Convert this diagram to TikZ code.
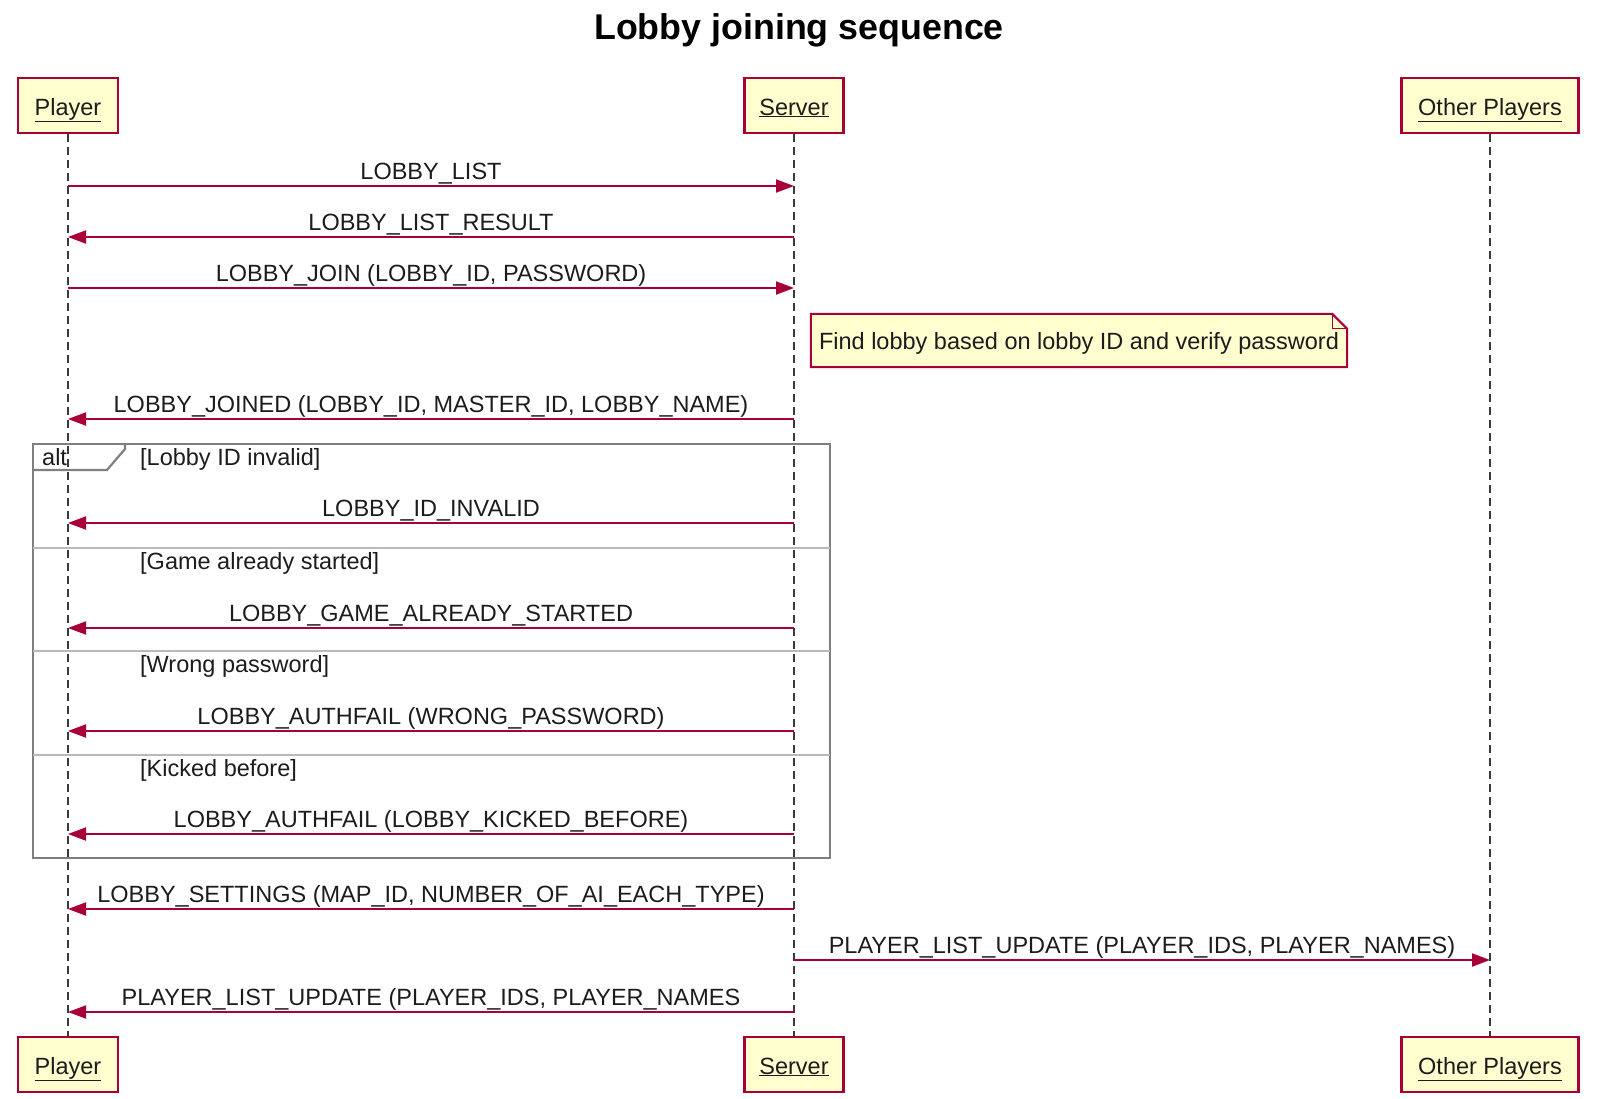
\documentclass[tikz,border=0pt]{standalone}
\usepackage{fontspec}
\setmainfont{Liberation Sans}
\usetikzlibrary{arrows.meta,positioning,calc,backgrounds}

\begin{document}
\begin{tikzpicture}[
    x=1pt, y=-1pt,
    every node/.style={font=\fontsize{23.5}{28}\selectfont, text=textdark},
    actor/.style={draw=umlred, fill=umlyellow, line width=2.2pt, minimum height=55pt, inner sep=0pt,
      text height=25pt, text depth=6pt},
    lifeline/.style={draw=linegray, line width=1.6pt, dash pattern=on 8pt off 5pt},
    msg/.style={umlred, line width=2pt, -{Triangle[length=18pt,width=13pt]}},
    msglabel/.style={midway, anchor=base, yshift=7pt, inner sep=0pt},
    framebox/.style={draw=framegray, line width=2.2pt},
    divider/.style={draw=framegray!55, line width=2pt},
    guard/.style={anchor=base west, inner sep=0pt},
  ]
    \definecolor{umlred}{HTML}{A80036}
    \definecolor{umlyellow}{HTML}{FEFECE}
    \definecolor{linegray}{HTML}{3A3A3A}
    \definecolor{framegray}{HTML}{7F7F7F}
    \definecolor{textdark}{HTML}{1C1C1C}

    \useasboundingbox (0,0) rectangle (1598,1098);

    % ============ title ============
    \node[font=\fontsize{35.8}{40}\selectfont\bfseries, text=black] (title) at (799,30) {Lobby joining sequence};

    % ============ participants ============
    \node[actor, minimum width=100pt] (player) at (68,105.5) {\underline{Player}};
    \node[actor, minimum width=99pt] (server) at (794,105.5) {\underline{Server}};
    \node[actor, minimum width=177pt] (others) at (1490,105.5) {\underline{Other Players}};
    \node[actor, minimum width=100pt] (playerB) at (68,1064.5) {\underline{Player}};
    \node[actor, minimum width=99pt] (serverB) at (794,1064.5) {\underline{Server}};
    \node[actor, minimum width=177pt] (othersB) at (1490,1064.5) {\underline{Other Players}};

    \draw[lifeline] (player) -- (playerB);
    \draw[lifeline] (server) -- (serverB);
    \draw[lifeline] (others) -- (othersB);

    % ============ note ============
    \node[minimum width=536pt, minimum height=53pt, inner sep=0pt, text height=23pt, text depth=6pt] (note) at (1079,340.5)
      {Find lobby based on lobby ID and verify password};
    \begin{scope}[on background layer]
      \filldraw[fill=umlyellow, draw=umlred, line width=2pt] (note.north west) -- ([xshift=-15pt]note.north east)
        -- ([yshift=-15pt]note.north east) -- (note.south east) -- (note.south west) -- cycle;
      \draw[umlred, line width=1.2pt] ([xshift=-15pt]note.north east) |- ([yshift=-15pt]note.north east);
    \end{scope}

    % ============ alt frame ============
    \draw[framebox] (33,444) rectangle (830,858);
    \draw[framebox] (33,470) -- (107,470) -- (125,449) -- (125,444);
    \node[guard] (alt) at (42,465) {alt};
    \foreach \yy in {548,651,755}{
      \draw[divider] (33,\yy) -- (830,\yy);
    }
    \node[guard] (g1) at (140,465) {[Lobby ID invalid]};
    \node[guard] (g2) at (140,569) {[Game already started]};
    \node[guard] (g3) at (140,672) {[Wrong password]};
    \node[guard] (g4) at (140,776) {[Kicked before]};

    % ============ messages ============
    \foreach \yy/\from/\to/\txt in {
        186/player/server/{LOBBY\_LIST},
        237/server/player/{LOBBY\_LIST\_RESULT},
        288/player/server/{LOBBY\_JOIN (LOBBY\_ID, PASSWORD)},
        419/server/player/{LOBBY\_JOINED (LOBBY\_ID, MASTER\_ID, LOBBY\_NAME)},
        523/server/player/{LOBBY\_ID\_INVALID},
        628/server/player/{LOBBY\_GAME\_ALREADY\_STARTED},
        731/server/player/{LOBBY\_AUTHFAIL (WRONG\_PASSWORD)},
        834/server/player/{LOBBY\_AUTHFAIL (LOBBY\_KICKED\_BEFORE)},
        909/server/player/{LOBBY\_SETTINGS (MAP\_ID, NUMBER\_OF\_AI\_EACH\_TYPE)},
        960/server/others/{PLAYER\_LIST\_UPDATE (PLAYER\_IDS, PLAYER\_NAMES)},
        1012/server/player/{PLAYER\_LIST\_UPDATE (PLAYER\_IDS, PLAYER\_NAMES}
      }{
      \draw[msg] (\from |- 0,\yy) -- (\to |- 0,\yy) node[msglabel] (m\yy) {\txt};
    }
  \end{tikzpicture}
\end{document}
